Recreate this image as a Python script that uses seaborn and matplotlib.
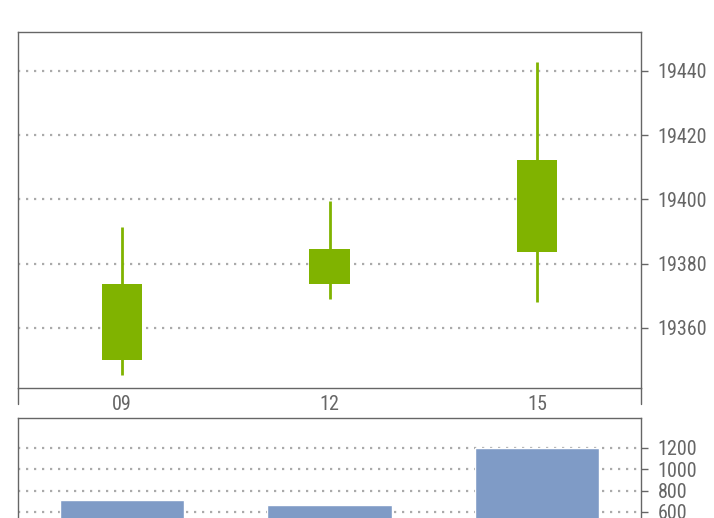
import matplotlib
matplotlib.use("Agg")
import matplotlib.pyplot as plt
import seaborn as sns
import pandas as pd
import numpy as np

# ---- data ----
labels = ["09", "12", "15"]
opens = [19350.0, 19373.7, 19383.7]
closes = [19373.7, 19384.6, 19412.3]
highs = [19391.4, 19399.5, 19442.8]
lows = [19345.4, 19369.0, 19368.1]
volumes = [712, 665, 1195]
price_ticks = [19360, 19380, 19400, 19420, 19440]
volume_ticks = [600, 800, 1000, 1200]

sns.set_style("white")
plt.rcParams['font.family'] = ['Roboto Condensed', 'Liberation Sans', 'DejaVu Sans']

TEXT = "#666666"
SPINE = "#666666"
GRID = "#aaaaaa"
UP = "#80b300"
BAR = "#7f9bc6"
FS = 14.5

fig = plt.figure(figsize=(7.14, 5.18), dpi=100)
W, H = 714, 518

def axpos(l, t, r, b):
    return [l / W, 1 - b / H, (r - l) / W, (b - t) / H]

ax = fig.add_axes(axpos(18, 32, 641, 388))
axv = fig.add_axes(axpos(18, 418, 641, 540))

x = np.arange(len(labels))
df = pd.DataFrame({"label": labels, "open": opens, "close": closes,
                   "high": highs, "low": lows, "volume": volumes})

# candlesticks
ax.vlines(x, df["low"], df["high"], color=UP, linewidth=2, zorder=3)
bottoms = np.minimum(df["open"], df["close"])
heights = np.abs(df["close"] - df["open"])
ax.bar(x, heights, bottom=bottoms, width=0.193, color=UP, zorder=4, linewidth=0)

ax.set_xlim(-0.5, 2.5)
ax.set_ylim(19341.3, 19452.1)
ax.yaxis.tick_right()
ax.set_yticks(price_ticks)
ax.set_yticklabels([str(v) for v in price_ticks])
ax.set_xticks(x)
ax.set_xticklabels(labels)
ax.set_xticks([0.5, 1.5], minor=True)
ax.tick_params(axis='x', which='major', length=0, pad=5, labelsize=FS, labelcolor=TEXT)
ax.tick_params(axis='x', which='minor', length=6, width=1, color=SPINE, direction='out')
ax.tick_params(axis='y', which='major', length=5, width=1, color=SPINE, pad=7,
               labelsize=FS, labelcolor=TEXT, direction='out')
ax.grid(axis='y', color=GRID, linestyle=(0, (1.0, 2.6)), linewidth=1.6)
ax.set_axisbelow(True)
for s in ax.spines.values():
    s.set_color(SPINE)
    s.set_linewidth(1)
for xe in (0, 1):
    ax.plot([xe, xe], [0, -0.045], transform=ax.transAxes, color=SPINE,
            linewidth=1, clip_on=False)

# volume
sns.barplot(data=df, x="label", y="volume", color=BAR, saturation=1,
            width=0.6, ax=axv, zorder=3)
axv.set_xlim(-0.5, 2.5)
axv.set_ylim(336, 1481)
axv.yaxis.tick_right()
axv.set_yticks(volume_ticks)
axv.set_yticklabels([str(v) for v in volume_ticks])
axv.set_xticks([])
axv.set_xlabel("")
axv.set_ylabel("")
axv.tick_params(axis='y', which='major', length=5, width=1, color=SPINE, pad=7,
                labelsize=FS, labelcolor=TEXT, direction='out')
axv.grid(axis='y', color=GRID, linestyle=(0, (1.0, 2.6)), linewidth=1.6)
axv.set_axisbelow(True)
for s in axv.spines.values():
    s.set_color(SPINE)
    s.set_linewidth(1)

fig.savefig("out.png", dpi=100)
